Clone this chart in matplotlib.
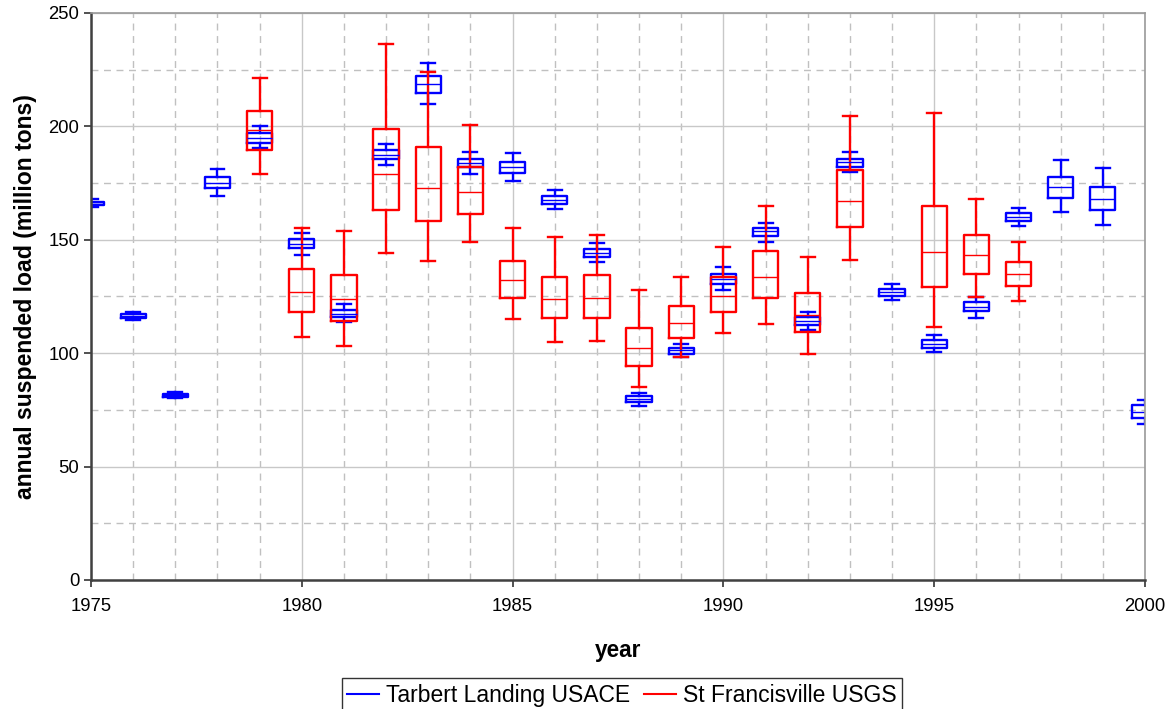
import matplotlib

matplotlib.use("Agg")
import matplotlib.pyplot as plt
from matplotlib.lines import Line2D
from matplotlib.ticker import MultipleLocator

plt.rcParams["font.family"] = ["Liberation Sans", "DejaVu Sans"]

# Tarbert Landing USACE: per-year box stats (whisker low, q1, median, q3, whisker high)
tarbert_years = list(range(1975, 2001))
tarbert_lo = [164.5, 114.7, 80.2, 169.5, 190.4, 143.4, 113.9, 182.8, 210.0, 178.8, 176.0, 163.5, 140.0,
              76.8, 98.2, 127.8, 149.2, 110.3, 180.1, 123.5, 100.4, 115.7, 155.9, 162.3, 156.6, 68.7]
tarbert_q1 = [165.3, 115.4, 80.9, 172.8, 192.8, 146.3, 116.0, 185.6, 214.8, 181.9, 179.5, 165.9, 142.5,
              78.4, 99.7, 130.7, 151.7, 112.5, 182.3, 125.3, 102.5, 118.4, 158.1, 168.5, 163.2, 71.6]
tarbert_med = [166.0, 116.3, 81.5, 175.0, 195.0, 148.1, 117.5, 187.6, 218.5, 183.8, 182.2, 167.7, 144.4,
               79.7, 101.2, 132.8, 153.8, 114.4, 184.1, 127.0, 104.2, 120.3, 160.0, 173.2, 168.2, 74.0]
tarbert_q3 = [166.8, 117.2, 82.1, 177.5, 197.3, 150.3, 119.1, 189.4, 222.2, 185.7, 184.4, 169.5, 146.1,
              81.2, 102.5, 134.8, 155.4, 115.9, 185.8, 128.5, 106.0, 122.5, 161.7, 177.9, 173.4, 77.2]
tarbert_hi = [167.8, 118.1, 82.8, 181.0, 200.3, 153.1, 121.6, 192.3, 227.8, 188.5, 188.2, 171.9, 148.7,
              82.6, 104.2, 137.8, 157.6, 118.2, 188.5, 130.7, 108.1, 124.6, 164.2, 185.4, 181.7, 79.4]

# St Francisville USGS (no 1994 record)
stf_years = [1979, 1980, 1981, 1982, 1983, 1984, 1985, 1986, 1987, 1988, 1989, 1990, 1991, 1992, 1993,
             1995, 1996, 1997]
stf_lo = [179.2, 107.3, 103.2, 144.4, 140.7, 149.1, 115.1, 105.1, 105.3, 85.0, 98.2, 109.1, 112.9, 99.7,
          141.2, 111.6, 124.8, 123.1]
stf_q1 = [189.7, 118.1, 114.4, 163.2, 158.4, 161.3, 124.4, 115.3, 115.7, 94.4, 106.7, 118.1, 124.4, 109.4,
          155.6, 129.0, 135.1, 129.7]
stf_med = [198.2, 126.9, 123.8, 179.2, 172.9, 171.0, 132.2, 123.8, 124.5, 102.2, 113.5, 125.1, 133.8, 117.0,
           167.3, 144.8, 143.2, 135.0]
stf_q3 = [207.0, 137.3, 134.7, 198.9, 190.7, 182.0, 140.8, 133.8, 134.7, 111.3, 120.9, 133.4, 145.0, 126.7,
          180.9, 164.8, 152.3, 140.3]
stf_hi = [221.4, 155.1, 154.1, 236.2, 224.1, 200.4, 155.3, 151.3, 152.3, 127.9, 133.7, 147.0, 164.7, 142.6,
          204.8, 205.7, 167.8, 149.0]


def box_stats(lo, q1, med, q3, hi):
    return [{"whislo": a, "q1": b, "med": c, "q3": d, "whishi": e, "fliers": []}
            for a, b, c, d, e in zip(lo, q1, med, q3, hi)]


def draw_boxes(ax, years, stats, color):
    ax.bxp(stats, positions=years, widths=0.6, capwidths=0.33, showfliers=False,
           manage_ticks=False,
           boxprops=dict(color=color, linewidth=1.7),
           medianprops=dict(color=color, linewidth=1.0),
           whiskerprops=dict(color=color, linewidth=1.7),
           capprops=dict(color=color, linewidth=1.7))


fig = plt.figure(figsize=(11.76, 7.09), dpi=100)
ax = fig.add_axes([91 / 1176, 1 - 580 / 709, (1145 - 91) / 1176, (580 - 13) / 709])

draw_boxes(ax, tarbert_years, box_stats(tarbert_lo, tarbert_q1, tarbert_med, tarbert_q3, tarbert_hi), "#0000ff")
draw_boxes(ax, stf_years, box_stats(stf_lo, stf_q1, stf_med, stf_q3, stf_hi), "#ff0000")

ax.set_xlim(1975, 2000)
ax.set_ylim(0, 250)
ax.xaxis.set_major_locator(MultipleLocator(5))
ax.xaxis.set_minor_locator(MultipleLocator(1))
ax.yaxis.set_major_locator(MultipleLocator(50))
ax.yaxis.set_minor_locator(MultipleLocator(25))
ax.set_axisbelow(True)
ax.grid(which="major", color="#c8c8c8", linewidth=1.0, linestyle="-")
ax.grid(which="minor", color="#c0c0c0", linewidth=1.0, linestyle=(0, (5, 4)))
ax.tick_params(which="major", direction="out", length=5, width=1.2, color="#333333", labelsize=13.3)
ax.tick_params(which="minor", length=0)
ax.tick_params(axis="x", pad=8)

for side in ("left", "bottom"):
    ax.spines[side].set_color("#404040")
    ax.spines[side].set_linewidth(1.8)
for side in ("top", "right"):
    ax.spines[side].set_color("#9a9a9a")
    ax.spines[side].set_linewidth(1.2)

ax.set_xlabel("year", fontsize=16.3, fontweight="bold", labelpad=17)
ax.set_ylabel("annual suspended load (million tons)", fontsize=16.6, fontweight="bold", labelpad=8)

handles = [Line2D([], [], color="#0000ff", linewidth=1.5), Line2D([], [], color="#ff0000", linewidth=1.5)]
leg = fig.legend(handles, ["Tarbert Landing USACE", "St Francisville USGS"], loc="upper center",
                 bbox_to_anchor=(622 / 1176, 1 - 678 / 709), borderaxespad=0, ncol=2, fontsize=16.5,
                 frameon=True, fancybox=False, edgecolor="#000000", handlelength=1.4, handletextpad=0.3,
                 columnspacing=0.6, borderpad=0.25)
leg.get_frame().set_linewidth(1.0)

fig.savefig("out.png", dpi=100)
